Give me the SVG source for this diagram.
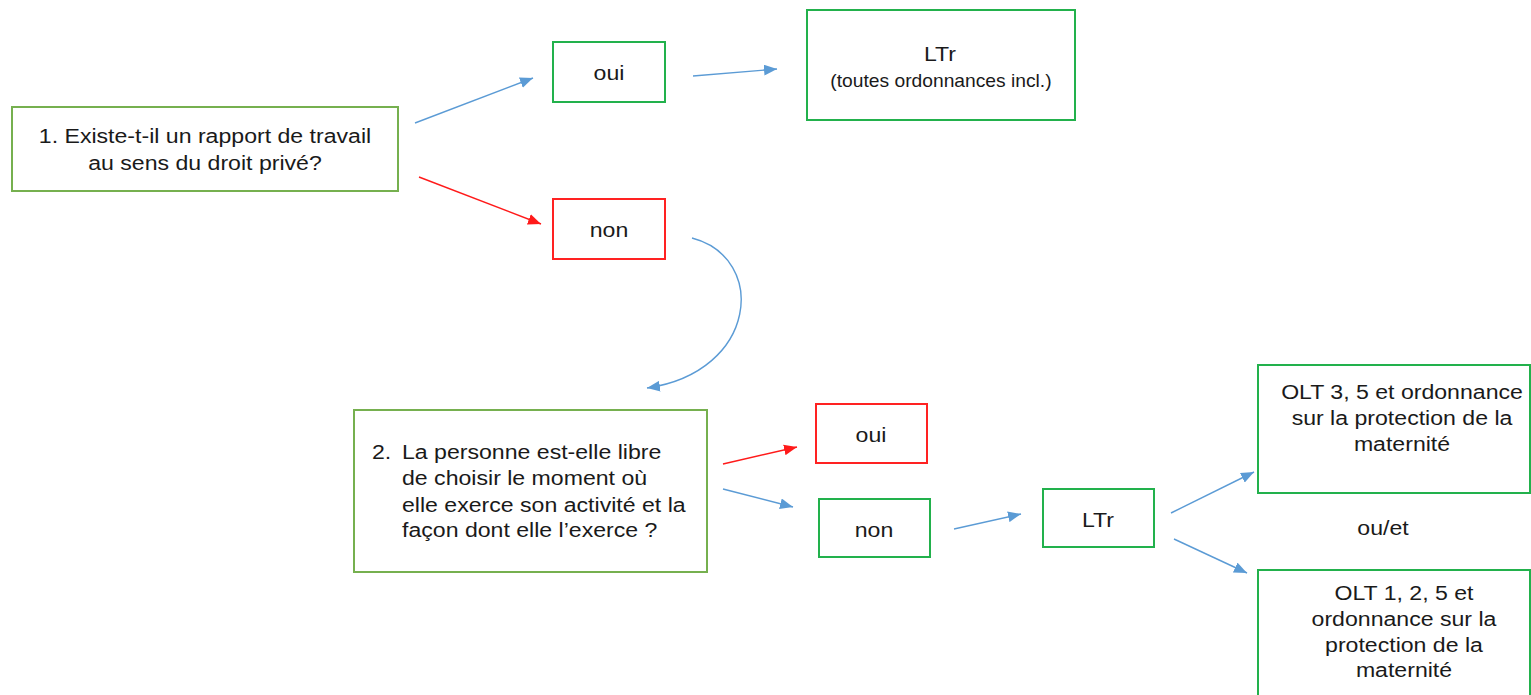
<svg xmlns="http://www.w3.org/2000/svg" width="1531" height="695" viewBox="0 0 1531 695">
<defs>
<style>
.t{font-family:"Liberation Sans",Arial,sans-serif;font-size:21px;fill:#1a1a1a;text-anchor:middle}
.s{font-size:17.5px}
.l{text-anchor:start}
.bq{fill:#fff;stroke:#76b04f;stroke-width:2}
.bg{fill:#fff;stroke:#22b14c;stroke-width:2}
.br{fill:#fff;stroke:#ff2222;stroke-width:2}
.cb{fill:none;stroke:#5b9bd5;stroke-width:1.4}
.cr{fill:none;stroke:#ff1a1a;stroke-width:1.4}
</style>
<marker id="ab" viewBox="0 0 12 10" refX="12" refY="5" markerWidth="13" markerHeight="11" markerUnits="userSpaceOnUse" orient="auto"><path d="M0,0 L12,5 L0,10 z" fill="#5b9bd5"/></marker>
<marker id="ar" viewBox="0 0 12 10" refX="12" refY="5" markerWidth="13" markerHeight="11" markerUnits="userSpaceOnUse" orient="auto"><path d="M0,0 L12,5 L0,10 z" fill="#ff1a1a"/></marker>
</defs>
<rect width="1531" height="695" fill="#fff"/>
<g id="connectors">
<line class="cb" x1="415" y1="123" x2="533" y2="78" marker-end="url(#ab)"/>
<line class="cr" x1="419" y1="177" x2="541" y2="224" marker-end="url(#ar)"/>
<line class="cb" x1="693" y1="76" x2="777" y2="69" marker-end="url(#ab)"/>
<path class="cb" d="M692,238 C768,258 758,372 647,388" marker-end="url(#ab)"/>
<line class="cr" x1="723" y1="464" x2="797" y2="447" marker-end="url(#ar)"/>
<line class="cb" x1="723" y1="489" x2="793" y2="507" marker-end="url(#ab)"/>
<line class="cb" x1="954" y1="529" x2="1021" y2="514" marker-end="url(#ab)"/>
<line class="cb" x1="1171" y1="513" x2="1254" y2="472" marker-end="url(#ab)"/>
<line class="cb" x1="1174" y1="539" x2="1247" y2="573" marker-end="url(#ab)"/>
</g>
<g id="q1">
<rect class="bq" x="12" y="107" width="386" height="84"/>
<text class="t" transform="translate(205 0) scale(1.1 1)"><tspan x="0" y="143">1. Existe-t-il un rapport de travail</tspan><tspan x="0" y="170">au sens du droit privé?</tspan></text>
</g>
<g id="oui1">
<rect class="bg" x="553" y="42" width="112" height="60"/>
<text class="t" transform="translate(609 0) scale(1.1 1)" y="80">oui</text>
</g>
<g id="ltr1">
<rect class="bg" x="807" y="10" width="268" height="110"/>
<text class="t" transform="translate(940 0) scale(1.1 1)" y="61">LTr</text>
<text class="t s" transform="translate(941 0) scale(1.1 1)" y="87">(toutes ordonnances incl.)</text>
</g>
<g id="non1">
<rect class="br" x="553" y="199" width="112" height="60"/>
<text class="t" transform="translate(609 0) scale(1.1 1)" y="237">non</text>
</g>
<g id="q2">
<rect class="bq" x="354" y="410" width="353" height="162"/>
<text class="t l" transform="translate(372 0) scale(1.1 1)"><tspan x="0" y="459">2.</tspan><tspan x="27.3" y="459">La personne est-elle libre</tspan><tspan x="27.3" y="485">de choisir le moment où</tspan><tspan x="27.3" y="512">elle exerce son activité et la</tspan><tspan x="27.3" y="537">façon dont elle l’exerce ?</tspan></text>
</g>
<g id="oui2">
<rect class="br" x="816" y="404" width="111" height="59"/>
<text class="t" transform="translate(871 0) scale(1.1 1)" y="442">oui</text>
</g>
<g id="non2">
<rect class="bg" x="819" y="499" width="111" height="58"/>
<text class="t" transform="translate(874 0) scale(1.1 1)" y="537">non</text>
</g>
<g id="ltr2">
<rect class="bg" x="1043" y="489" width="111" height="58"/>
<text class="t" transform="translate(1098 0) scale(1.1 1)" y="527">LTr</text>
</g>
<g id="olt35">
<rect class="bg" x="1258" y="365" width="272" height="128"/>
<text class="t" transform="translate(1402 0) scale(1.1 1)"><tspan x="0" y="399">OLT 3, 5 et ordonnance</tspan><tspan x="0" y="425">sur la protection de la</tspan><tspan x="0" y="451">maternité</tspan></text>
</g>
<g id="ouet">
<text class="t" transform="translate(1383 0) scale(1.1 1)" y="535">ou/et</text>
</g>
<g id="olt125">
<rect class="bg" x="1258" y="570" width="272" height="140"/>
<text class="t" transform="translate(1404 0) scale(1.1 1)"><tspan x="0" y="600">OLT 1, 2, 5 et</tspan><tspan x="0" y="626">ordonnance sur la</tspan><tspan x="0" y="652">protection de la</tspan><tspan x="0" y="677">maternité</tspan></text>
</g>
</svg>
